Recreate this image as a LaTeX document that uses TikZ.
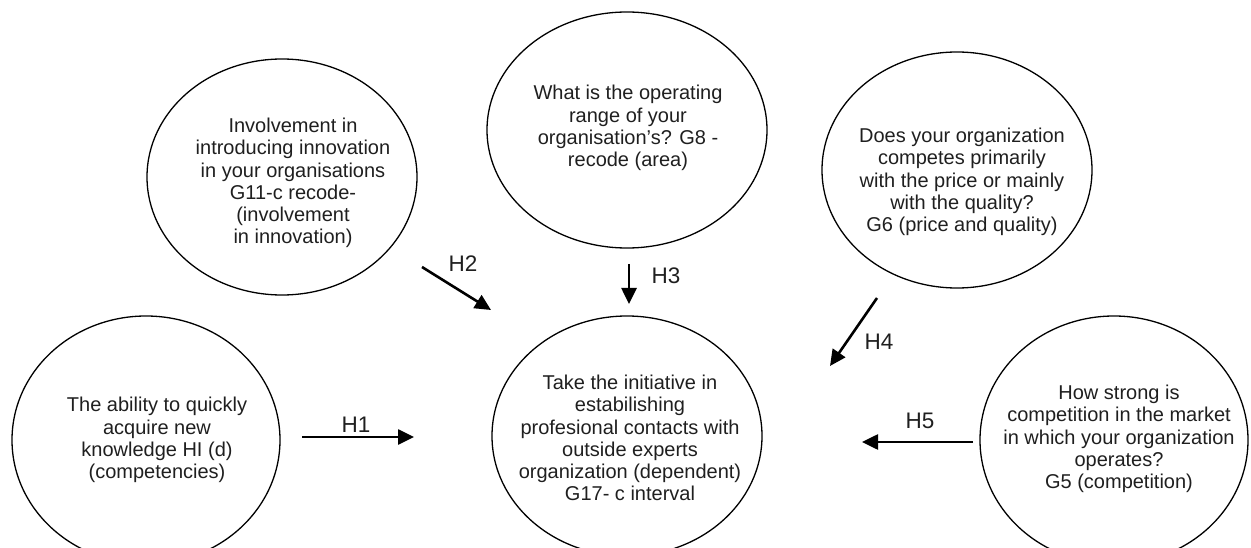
\documentclass[tikz,border=0pt]{standalone}
\usepackage{fontspec}
\setmainfont{Liberation Sans}
\usetikzlibrary{shapes.geometric,arrows.meta}
\begin{document}
\begin{tikzpicture}[x=1pt,y=-1pt,
  bubble/.style={draw, line width=1.3pt, ellipse, inner sep=0pt},
  caption/.style={align=center, font=\fontsize{20}{22.3}\selectfont, inner sep=0pt, text=black!88},
  link/.style={line width=2.6pt, -{Triangle[length=16pt,width=15pt]}},
  hyp/.style={font=\fontsize{22.5}{24}\selectfont, inner sep=0pt, text=black!88}]
\useasboundingbox (0,0) rectangle (1251,548);
\clip (0,0) rectangle (1251,548);

% outer factors
\node[bubble, minimum width=270pt, minimum height=236pt] (e1) at (282,177) {};
\node[bubble, minimum width=280pt, minimum height=236pt] (e2) at (627,130) {};
\node[bubble, minimum width=270pt, minimum height=236pt] (e3) at (957,170) {};
\node[bubble, minimum width=268pt, minimum height=248pt] (e4) at (146,440) {};
\node[bubble, minimum width=270pt, minimum height=240pt] (e5) at (627,436) {};
\node[bubble, minimum width=268pt, minimum height=248pt] (e6) at (1114,440) {};

% captions
\node[caption] (t1) at (293,183) {Involvement in\\introducing innovation\\in your organisations\\G11-c recode-\\(involvement\\in innovation)};
\node[caption] (t2) at (628,128) {What is the operating\\range of your\\organisation’s? G8 -\\recode (area)};
\node[caption] (t3) at (962,182) {Does your organization\\competes primarily\\with the price or mainly\\with the quality?\\G6 (price and quality)};
\node[caption] (t4) at (157,440) {The ability to quickly\\acquire new\\knowledge HI (d)\\(competencies)};
\node[caption] (t5) at (630,438) {Take the initiative in\\estabilishing\\profesional contacts with\\outside experts\\organization (dependent)\\G17- c interval};
\node[caption] (t6) at (1119,439) {How strong is\\competition in the market\\in which your organization\\operates?\\G5 (competition)};

% hypothesis arrows
\coordinate (a1s) at (302,437); \coordinate (a1e) at (414,437);
\coordinate (a2s) at (422,267); \coordinate (a2e) at (491,310);
\coordinate (a3s) at (629,264); \coordinate (a3e) at (629,304);
\coordinate (a4s) at (877,298); \coordinate (a4e) at (830,366);
\coordinate (a5s) at (973,442); \coordinate (a5e) at (862,442);
\draw[link] (a1s) -- (a1e);
\draw[link] (a2s) -- (a2e);
\draw[link] (a3s) -- (a3e);
\draw[link] (a4s) -- (a4e);
\draw[link] (a5s) -- (a5e);

\node[hyp] (h1) at (356,425) {H1};
\node[hyp] (h2) at (463,264) {H2};
\node[hyp] (h3) at (666,276) {H3};
\node[hyp] (h4) at (879,342) {H4};
\node[hyp] (h5) at (920,421) {H5};
\end{tikzpicture}
\end{document}
